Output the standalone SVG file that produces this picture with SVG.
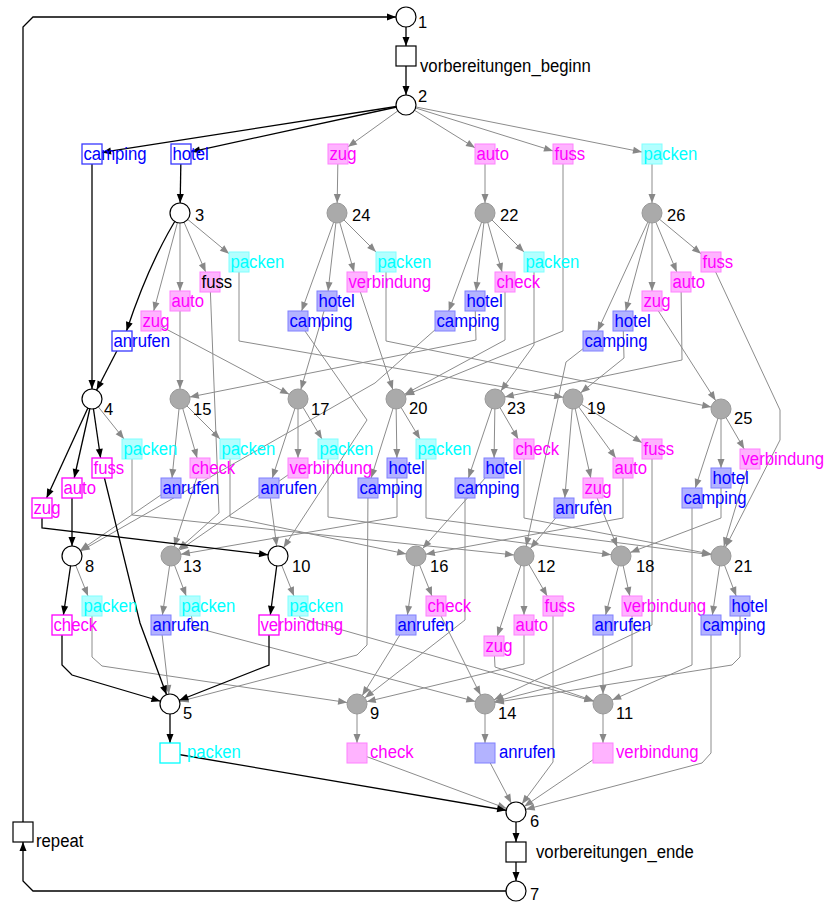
<svg xmlns="http://www.w3.org/2000/svg" width="832" height="905" viewBox="0 0 832 905">
<defs>
<style>
.g,.gt{fill:none;stroke:#8c8c8c;stroke-width:1}
.g{marker-end:url(#ap)}
.gt{marker-end:url(#at)}
.b,.bt{fill:none;stroke:#000;stroke-width:1.3}
.b{marker-end:url(#bp)}
.bt{marker-end:url(#bt)}
.pw{fill:#fff;stroke:#000;stroke-width:1.2}
.pg{fill:#aaa;stroke:#999;stroke-width:1}
.pl{font-family:"Liberation Sans",Arial,sans-serif;font-size:16.5px;fill:#000}
.tl{font-family:"Liberation Sans",Arial,sans-serif;font-size:19px}
.cb{fill:#00f}.cm{fill:#f0f}.cc{fill:#0ff}.ck{fill:#000}
.fb{fill:#b3b3ff;stroke:#8080ff}
.fm{fill:#ffb3ff;stroke:#ff80ff}
.fc{fill:#b3ffff;stroke:#80ffff}
.hb{fill:#fff;stroke:#3838ff;stroke-width:1.3}
.hm{fill:#fff;stroke:#f0f;stroke-width:1.3}
.hc{fill:#fff;stroke:#0ff;stroke-width:1.3}
.hk{fill:#fff;stroke:#000;stroke-width:1.2}
</style>
<marker id="ap" markerUnits="userSpaceOnUse" markerWidth="20" markerHeight="8" refX="19" refY="3.5" orient="auto" overflow="visible"><path d="M0,0 L9,3.5 L0,7 z" fill="#888"/></marker>
<marker id="at" markerUnits="userSpaceOnUse" markerWidth="10" markerHeight="8" refX="9" refY="3.5" orient="auto" overflow="visible"><path d="M0,0 L9,3.5 L0,7 z" fill="#888"/></marker>
<marker id="bp" markerUnits="userSpaceOnUse" markerWidth="20" markerHeight="8" refX="19" refY="3.5" orient="auto" overflow="visible"><path d="M0,0 L9,3.5 L0,7 z" fill="#000"/></marker>
<marker id="bt" markerUnits="userSpaceOnUse" markerWidth="10" markerHeight="8" refX="9" refY="3.5" orient="auto" overflow="visible"><path d="M0,0 L9,3.5 L0,7 z" fill="#000"/></marker>
</defs>
<rect width="832" height="905" fill="#fff"/>
<g id="connectors">
<path class="gt" d="M406,105 L348,146.8"/>
<path class="gt" d="M406,105 L475,147.8"/>
<path class="gt" d="M406,105 L553,150.9"/>
<path class="gt" d="M406,105 L642,152"/>
<path class="gt" d="M180,213 L153.7,311"/>
<path class="gt" d="M180,213 L180,291"/>
<path class="gt" d="M180,213 L205.7,272"/>
<path class="gt" d="M180,213 L229,253.7"/>
<path class="gt" d="M337,213 L301.6,311"/>
<path class="gt" d="M337,213 L328.1,291"/>
<path class="gt" d="M337,213 L354.1,272"/>
<path class="gt" d="M337,213 L376,252"/>
<path class="gt" d="M485,213 L448.7,311"/>
<path class="gt" d="M485,213 L476.1,291"/>
<path class="gt" d="M485,213 L502.1,272"/>
<path class="gt" d="M485,213 L524,252"/>
<path class="gt" d="M652,213 L597.6,331"/>
<path class="gt" d="M652,213 L625.7,311"/>
<path class="gt" d="M652,213 L652,291"/>
<path class="gt" d="M652,213 L676.8,272"/>
<path class="gt" d="M652,213 L701,253.7"/>
<path class="gt" d="M92,399 L124,439"/>
<path class="gt" d="M180,399 L172,478"/>
<path class="gt" d="M180,399 L197.1,458"/>
<path class="gt" d="M180,399 L220,439"/>
<path class="gt" d="M298,399 L272.3,478"/>
<path class="gt" d="M298,399 L298,458"/>
<path class="gt" d="M298,399 L322,439"/>
<path class="gt" d="M396,399 L371.1,478"/>
<path class="gt" d="M396,399 L396.9,458"/>
<path class="gt" d="M396,399 L420,439"/>
<path class="gt" d="M495,399 L468.4,478"/>
<path class="gt" d="M495,399 L494.1,458"/>
<path class="gt" d="M495,399 L518.2,439"/>
<path class="gt" d="M573,399 L564.8,498"/>
<path class="gt" d="M573,399 L590.8,478"/>
<path class="gt" d="M573,399 L615.8,458"/>
<path class="gt" d="M573,399 L642,442.7"/>
<path class="gt" d="M721,409 L695.3,488"/>
<path class="gt" d="M721,409 L721,468"/>
<path class="gt" d="M721,409 L744.2,449"/>
<path class="gt" d="M72,556 L88,596"/>
<path class="gt" d="M171,556 L162.4,615"/>
<path class="gt" d="M171,556 L186.2,596"/>
<path class="gt" d="M278,556 L294,596"/>
<path class="gt" d="M416,556 L407.4,615"/>
<path class="gt" d="M416,556 L432,596"/>
<path class="gt" d="M524,556 L497.3,636"/>
<path class="gt" d="M524,556 L524,615"/>
<path class="gt" d="M524,556 L547.2,596"/>
<path class="gt" d="M621,556 L605.6,615"/>
<path class="gt" d="M621,556 L629.8,596"/>
<path class="gt" d="M721,556 L712.4,615"/>
<path class="gt" d="M721,556 L736.2,596"/>
<path class="gt" d="M357,704 L357,743"/>
<path class="gt" d="M485,704 L485,743"/>
<path class="gt" d="M603,704 L603,743"/>
<path class="g" d="M338,154 L337,213"/>
<path class="g" d="M485,154 L485,213"/>
<path class="g" d="M652,154 L652,213"/>
<path class="g" d="M563,154 L563,331 L396,399"/>
<path class="g" d="M151,321 L298,399"/>
<path class="g" d="M180,301 L180,399"/>
<path class="g" d="M210,282 L219,513 L171,556"/>
<path class="g" d="M239,262 L239,341 L573,399"/>
<path class="g" d="M298,321 L367,420 L278,556"/>
<path class="g" d="M327,301 L298,399"/>
<path class="g" d="M357,282 L396,399"/>
<path class="g" d="M386,262 L386,341 L721,409"/>
<path class="g" d="M445,321 L375,383 L72,556"/>
<path class="g" d="M475,301 L476,340 L180,399"/>
<path class="g" d="M505,282 L505,340 L396,399"/>
<path class="g" d="M534,262 L534,345 L495,399"/>
<path class="g" d="M593,341 L566,362 L524,556"/>
<path class="g" d="M623,321 L624,358 L573,399"/>
<path class="g" d="M652,301 L721,409"/>
<path class="g" d="M681,282 L682,360 L495,399"/>
<path class="g" d="M711,262 L780,410 L780,440 L721,556"/>
<path class="g" d="M132,449 L132,515 L524,556"/>
<path class="g" d="M230,449 L230,517 L416,556"/>
<path class="g" d="M200,468 L171,556"/>
<path class="g" d="M171,488 L72,556"/>
<path class="g" d="M328,449 L328,517 L621,556"/>
<path class="g" d="M298,468 L171,556"/>
<path class="g" d="M269,488 L278,556"/>
<path class="g" d="M426,449 L426,518 L721,556"/>
<path class="g" d="M397,468 L397,517 L171,556"/>
<path class="g" d="M368,488 L367,645 L357,655 L170,704"/>
<path class="g" d="M524,449 L524,518 L721,556"/>
<path class="g" d="M494,468 L416,556"/>
<path class="g" d="M465,488 L465,620 L357,704"/>
<path class="g" d="M652,449 L652,625 L485,704"/>
<path class="g" d="M623,468 L623,518 L416,556"/>
<path class="g" d="M593,488 L621,556"/>
<path class="g" d="M564,508 L524,556"/>
<path class="g" d="M750,459 L721,556"/>
<path class="g" d="M721,478 L721,518 L621,556"/>
<path class="g" d="M692,498 L692,665 L603,704"/>
<path class="g" d="M92,606 L92,657 L102,666 L357,704"/>
<path class="g" d="M190,606 L193,627 L485,704"/>
<path class="g" d="M161,625 L170,704"/>
<path class="g" d="M298,606 L300,618 L603,704"/>
<path class="g" d="M436,606 L485,704"/>
<path class="g" d="M406,625 L357,704"/>
<path class="g" d="M553,606 L553,762 L516,812"/>
<path class="g" d="M524,625 L524,664 L357,704"/>
<path class="g" d="M494,646 L495,667 L603,704"/>
<path class="g" d="M632,606 L632,666 L485,704"/>
<path class="g" d="M603,625 L603,704"/>
<path class="g" d="M740,606 L740,657 L732,665 L485,704"/>
<path class="g" d="M711,625 L711,753 L702,763 L516,812"/>
<path class="g" d="M357,753 L516,812"/>
<path class="g" d="M485,753 L516,812"/>
<path class="g" d="M603,753 L516,812"/>
<path class="bt" d="M406,17 L406,46"/>
<path class="b" d="M406,56 L406,105"/>
<path class="bt" d="M406,105 L102,152.4"/>
<path class="bt" d="M406,105 L191,151.8"/>
<path class="b" d="M92,154 L92,399"/>
<path class="b" d="M181,154 L180,213"/>
<path class="bt" d="M180,213 Q150,260 126.5,331"/>
<path class="b" d="M122,341 L92,399"/>
<path class="bt" d="M92,399 L46.6,498"/>
<path class="bt" d="M92,399 L74.2,478"/>
<path class="bt" d="M92,399 L100.6,458"/>
<path class="b" d="M42,508 L42,528 L278,556"/>
<path class="b" d="M72,488 L72,556"/>
<path class="b" d="M102,468 L140,623 L170,704"/>
<path class="bt" d="M72,556 L63.4,615"/>
<path class="bt" d="M278,556 L270.3,615"/>
<path class="b" d="M62,625 L62,665 L72,675 L170,704"/>
<path class="b" d="M269,625 L269,665 L170,704"/>
<path class="bt" d="M170,704 L170,743"/>
<path class="b" d="M170,753 L516,812"/>
<path class="bt" d="M516,812 L516,842"/>
<path class="b" d="M516,852 L516,891"/>
<path class="bt" d="M516,891 L33,891 L23,881 L23,842"/>
<path class="b" d="M23,832 L23,27 L33,17 L406,17"/>
</g>
<g id="p1"><circle class="pw" cx="406" cy="17" r="10"/><text class="pl" x="418" y="28">1</text></g>
<g id="p2"><circle class="pw" cx="406" cy="105" r="10"/><text class="pl" x="418" y="102">2</text></g>
<g id="p3"><circle class="pw" cx="180" cy="213" r="10"/><text class="pl" x="195" y="221">3</text></g>
<g id="p24"><circle class="pg" cx="337" cy="213" r="10"/><text class="pl" x="352" y="221">24</text></g>
<g id="p22"><circle class="pg" cx="485" cy="213" r="10"/><text class="pl" x="500" y="221">22</text></g>
<g id="p26"><circle class="pg" cx="652" cy="213" r="10"/><text class="pl" x="667" y="221">26</text></g>
<g id="p4"><circle class="pw" cx="92" cy="399" r="10"/><text class="pl" x="104" y="415">4</text></g>
<g id="p15"><circle class="pg" cx="180" cy="399" r="10"/><text class="pl" x="193" y="415">15</text></g>
<g id="p17"><circle class="pg" cx="298" cy="399" r="10"/><text class="pl" x="311" y="415">17</text></g>
<g id="p20"><circle class="pg" cx="396" cy="399" r="10"/><text class="pl" x="409" y="414">20</text></g>
<g id="p23"><circle class="pg" cx="495" cy="399" r="10"/><text class="pl" x="507" y="414">23</text></g>
<g id="p19"><circle class="pg" cx="573" cy="399" r="10"/><text class="pl" x="587" y="414">19</text></g>
<g id="p25"><circle class="pg" cx="721" cy="409" r="10"/><text class="pl" x="734" y="424">25</text></g>
<g id="p8"><circle class="pw" cx="72" cy="556" r="10"/><text class="pl" x="85" y="572">8</text></g>
<g id="p13"><circle class="pg" cx="171" cy="556" r="10"/><text class="pl" x="183" y="572">13</text></g>
<g id="p10"><circle class="pw" cx="278" cy="556" r="10"/><text class="pl" x="292" y="572">10</text></g>
<g id="p16"><circle class="pg" cx="416" cy="556" r="10"/><text class="pl" x="430" y="572">16</text></g>
<g id="p12"><circle class="pg" cx="524" cy="556" r="10"/><text class="pl" x="537" y="572">12</text></g>
<g id="p18"><circle class="pg" cx="621" cy="556" r="10"/><text class="pl" x="636" y="572">18</text></g>
<g id="p21"><circle class="pg" cx="721" cy="556" r="10"/><text class="pl" x="734" y="572">21</text></g>
<g id="p5"><circle class="pw" cx="170" cy="704" r="10"/><text class="pl" x="183" y="719">5</text></g>
<g id="p9"><circle class="pg" cx="357" cy="704" r="10"/><text class="pl" x="370" y="719">9</text></g>
<g id="p14"><circle class="pg" cx="485" cy="704" r="10"/><text class="pl" x="498" y="719">14</text></g>
<g id="p11"><circle class="pg" cx="603" cy="704" r="10"/><text class="pl" x="616" y="719">11</text></g>
<g id="p6"><circle class="pw" cx="516" cy="812" r="10"/><text class="pl" x="530" y="827">6</text></g>
<g id="p7"><circle class="pw" cx="516" cy="891" r="10"/><text class="pl" x="530" y="900">7</text></g>
<g id="t_beginn"><rect class="hk" x="396" y="46" width="20" height="20"/><text class="tl ck" transform="translate(420 72) scale(.88 1)">vorbereitungen_beginn</text></g>
<g id="t_ende"><rect class="hk" x="506" y="842" width="20" height="20"/><text class="tl ck" transform="translate(536 858) scale(.88 1)">vorbereitungen_ende</text></g>
<g id="t_repeat"><rect class="hk" x="13" y="822" width="20" height="20"/><text class="tl ck" transform="translate(36 847) scale(.88 1)">repeat</text></g>
<g id="t2_camping"><rect class="hb" x="82" y="144" width="20" height="20"/><text class="tl cb" transform="translate(83.5 159.5) scale(.88 1)">camping</text></g>
<g id="t2_hotel"><rect class="hb" x="171" y="144" width="20" height="20"/><text class="tl cb" transform="translate(172.5 159.5) scale(.88 1)">hotel</text></g>
<g id="t2_zug"><rect class="fm" x="328" y="144" width="20" height="20"/><text class="tl cm" transform="translate(329.5 159.5) scale(.88 1)">zug</text></g>
<g id="t2_auto"><rect class="fm" x="475" y="144" width="20" height="20"/><text class="tl cm" transform="translate(476.5 159.5) scale(.88 1)">auto</text></g>
<g id="t2_fuss"><rect class="fm" x="553" y="144" width="20" height="20"/><text class="tl cm" transform="translate(554.5 159.5) scale(.88 1)">fuss</text></g>
<g id="t2_packen"><rect class="fc" x="642" y="144" width="20" height="20"/><text class="tl cc" transform="translate(643.5 159.5) scale(.88 1)">packen</text></g>
<g id="t3_packen"><rect class="fc" x="229" y="252" width="20" height="20"/><text class="tl cc" transform="translate(230.5 267.5) scale(.88 1)">packen</text></g>
<g id="t3_fuss"><rect class="fm" x="200" y="272" width="20" height="20"/><text class="tl ck" transform="translate(201.5 287.5) scale(.88 1)">fuss</text></g>
<g id="t3_auto"><rect class="fm" x="170" y="291" width="20" height="20"/><text class="tl cm" transform="translate(171.5 306.5) scale(.88 1)">auto</text></g>
<g id="t3_zug"><rect class="fm" x="141" y="311" width="20" height="20"/><text class="tl cm" transform="translate(142.5 326.5) scale(.88 1)">zug</text></g>
<g id="t3_anrufen"><rect class="hb" x="112" y="331" width="20" height="20"/><text class="tl cb" transform="translate(113.5 346.5) scale(.88 1)">anrufen</text></g>
<g id="t24_packen"><rect class="fc" x="376" y="252" width="20" height="20"/><text class="tl cc" transform="translate(377.5 267.5) scale(.88 1)">packen</text></g>
<g id="t24_verbindung"><rect class="fm" x="347" y="272" width="20" height="20"/><text class="tl cm" transform="translate(348.5 287.5) scale(.88 1)">verbindung</text></g>
<g id="t24_hotel"><rect class="fb" x="317" y="291" width="20" height="20"/><text class="tl cb" transform="translate(318.5 306.5) scale(.88 1)">hotel</text></g>
<g id="t24_camping"><rect class="fb" x="288" y="311" width="20" height="20"/><text class="tl cb" transform="translate(289.5 326.5) scale(.88 1)">camping</text></g>
<g id="t22_packen"><rect class="fc" x="524" y="252" width="20" height="20"/><text class="tl cc" transform="translate(525.5 267.5) scale(.88 1)">packen</text></g>
<g id="t22_check"><rect class="fm" x="495" y="272" width="20" height="20"/><text class="tl cm" transform="translate(496.5 287.5) scale(.88 1)">check</text></g>
<g id="t22_hotel"><rect class="fb" x="465" y="291" width="20" height="20"/><text class="tl cb" transform="translate(466.5 306.5) scale(.88 1)">hotel</text></g>
<g id="t22_camping"><rect class="fb" x="435" y="311" width="20" height="20"/><text class="tl cb" transform="translate(436.5 326.5) scale(.88 1)">camping</text></g>
<g id="t26_fuss"><rect class="fm" x="701" y="252" width="20" height="20"/><text class="tl cm" transform="translate(702.5 267.5) scale(.88 1)">fuss</text></g>
<g id="t26_auto"><rect class="fm" x="671" y="272" width="20" height="20"/><text class="tl cm" transform="translate(672.5 287.5) scale(.88 1)">auto</text></g>
<g id="t26_zug"><rect class="fm" x="642" y="291" width="20" height="20"/><text class="tl cm" transform="translate(643.5 306.5) scale(.88 1)">zug</text></g>
<g id="t26_hotel"><rect class="fb" x="613" y="311" width="20" height="20"/><text class="tl cb" transform="translate(614.5 326.5) scale(.88 1)">hotel</text></g>
<g id="t26_camping"><rect class="fb" x="583" y="331" width="20" height="20"/><text class="tl cb" transform="translate(584.5 346.5) scale(.88 1)">camping</text></g>
<g id="t4_packen"><rect class="fc" x="122" y="439" width="20" height="20"/><text class="tl cc" transform="translate(123.5 454.5) scale(.88 1)">packen</text></g>
<g id="t4_fuss"><rect class="hm" x="92" y="458" width="20" height="20"/><text class="tl cm" transform="translate(93.5 473.5) scale(.88 1)">fuss</text></g>
<g id="t4_auto"><rect class="hm" x="62" y="478" width="20" height="20"/><text class="tl cm" transform="translate(63.5 493.5) scale(.88 1)">auto</text></g>
<g id="t4_zug"><rect class="hm" x="32" y="498" width="20" height="20"/><text class="tl cm" transform="translate(33.5 513.5) scale(.88 1)">zug</text></g>
<g id="t15_packen"><rect class="fc" x="220" y="439" width="20" height="20"/><text class="tl cc" transform="translate(221.5 454.5) scale(.88 1)">packen</text></g>
<g id="t15_check"><rect class="fm" x="190" y="458" width="20" height="20"/><text class="tl cm" transform="translate(191.5 473.5) scale(.88 1)">check</text></g>
<g id="t15_anrufen"><rect class="fb" x="161" y="478" width="20" height="20"/><text class="tl cb" transform="translate(162.5 493.5) scale(.88 1)">anrufen</text></g>
<g id="t17_packen"><rect class="fc" x="318" y="439" width="20" height="20"/><text class="tl cc" transform="translate(319.5 454.5) scale(.88 1)">packen</text></g>
<g id="t17_verbindung"><rect class="fm" x="288" y="458" width="20" height="20"/><text class="tl cm" transform="translate(289.5 473.5) scale(.88 1)">verbindung</text></g>
<g id="t17_anrufen"><rect class="fb" x="259" y="478" width="20" height="20"/><text class="tl cb" transform="translate(260.5 493.5) scale(.88 1)">anrufen</text></g>
<g id="t20_packen"><rect class="fc" x="416" y="439" width="20" height="20"/><text class="tl cc" transform="translate(417.5 454.5) scale(.88 1)">packen</text></g>
<g id="t20_hotel"><rect class="fb" x="387" y="458" width="20" height="20"/><text class="tl cb" transform="translate(388.5 473.5) scale(.88 1)">hotel</text></g>
<g id="t20_camping"><rect class="fb" x="358" y="478" width="20" height="20"/><text class="tl cb" transform="translate(359.5 493.5) scale(.88 1)">camping</text></g>
<g id="t23_check"><rect class="fm" x="514" y="439" width="20" height="20"/><text class="tl cm" transform="translate(515.5 454.5) scale(.88 1)">check</text></g>
<g id="t23_hotel"><rect class="fb" x="484" y="458" width="20" height="20"/><text class="tl cb" transform="translate(485.5 473.5) scale(.88 1)">hotel</text></g>
<g id="t23_camping"><rect class="fb" x="455" y="478" width="20" height="20"/><text class="tl cb" transform="translate(456.5 493.5) scale(.88 1)">camping</text></g>
<g id="t19_fuss"><rect class="fm" x="642" y="439" width="20" height="20"/><text class="tl cm" transform="translate(643.5 454.5) scale(.88 1)">fuss</text></g>
<g id="t19_auto"><rect class="fm" x="613" y="458" width="20" height="20"/><text class="tl cm" transform="translate(614.5 473.5) scale(.88 1)">auto</text></g>
<g id="t19_zug"><rect class="fm" x="583" y="478" width="20" height="20"/><text class="tl cm" transform="translate(584.5 493.5) scale(.88 1)">zug</text></g>
<g id="t19_anrufen"><rect class="fb" x="554" y="498" width="20" height="20"/><text class="tl cb" transform="translate(555.5 513.5) scale(.88 1)">anrufen</text></g>
<g id="t25_verbindung"><rect class="fm" x="740" y="449" width="20" height="20"/><text class="tl cm" transform="translate(741.5 464.5) scale(.88 1)">verbindung</text></g>
<g id="t25_hotel"><rect class="fb" x="711" y="468" width="20" height="20"/><text class="tl cb" transform="translate(712.5 483.5) scale(.88 1)">hotel</text></g>
<g id="t25_camping"><rect class="fb" x="682" y="488" width="20" height="20"/><text class="tl cb" transform="translate(683.5 503.5) scale(.88 1)">camping</text></g>
<g id="t8_packen"><rect class="fc" x="82" y="596" width="20" height="20"/><text class="tl cc" transform="translate(83.5 611.5) scale(.88 1)">packen</text></g>
<g id="t8_check"><rect class="hm" x="52" y="615" width="20" height="20"/><text class="tl cm" transform="translate(53.5 630.5) scale(.88 1)">check</text></g>
<g id="t13_packen"><rect class="fc" x="180" y="596" width="20" height="20"/><text class="tl cc" transform="translate(181.5 611.5) scale(.88 1)">packen</text></g>
<g id="t13_anrufen"><rect class="fb" x="151" y="615" width="20" height="20"/><text class="tl cb" transform="translate(152.5 630.5) scale(.88 1)">anrufen</text></g>
<g id="t10_packen"><rect class="fc" x="288" y="596" width="20" height="20"/><text class="tl cc" transform="translate(289.5 611.5) scale(.88 1)">packen</text></g>
<g id="t10_verbindung"><rect class="hm" x="259" y="615" width="20" height="20"/><text class="tl cm" transform="translate(260.5 630.5) scale(.88 1)">verbindung</text></g>
<g id="t16_check"><rect class="fm" x="426" y="596" width="20" height="20"/><text class="tl cm" transform="translate(427.5 611.5) scale(.88 1)">check</text></g>
<g id="t16_anrufen"><rect class="fb" x="396" y="615" width="20" height="20"/><text class="tl cb" transform="translate(397.5 630.5) scale(.88 1)">anrufen</text></g>
<g id="t12_fuss"><rect class="fm" x="543" y="596" width="20" height="20"/><text class="tl cm" transform="translate(544.5 611.5) scale(.88 1)">fuss</text></g>
<g id="t12_auto"><rect class="fm" x="514" y="615" width="20" height="20"/><text class="tl cm" transform="translate(515.5 630.5) scale(.88 1)">auto</text></g>
<g id="t12_zug"><rect class="fm" x="484" y="636" width="20" height="20"/><text class="tl cm" transform="translate(485.5 651.5) scale(.88 1)">zug</text></g>
<g id="t18_verbindung"><rect class="fm" x="622" y="596" width="20" height="20"/><text class="tl cm" transform="translate(623.5 611.5) scale(.88 1)">verbindung</text></g>
<g id="t18_anrufen"><rect class="fb" x="593" y="615" width="20" height="20"/><text class="tl cb" transform="translate(594.5 630.5) scale(.88 1)">anrufen</text></g>
<g id="t21_hotel"><rect class="fb" x="730" y="596" width="20" height="20"/><text class="tl cb" transform="translate(731.5 611.5) scale(.88 1)">hotel</text></g>
<g id="t21_camping"><rect class="fb" x="701" y="615" width="20" height="20"/><text class="tl cb" transform="translate(702.5 630.5) scale(.88 1)">camping</text></g>
<g id="t5_packen"><rect class="hc" x="160" y="743" width="20" height="20"/><text class="tl cc" transform="translate(187 757.5) scale(.88 1)">packen</text></g>
<g id="t9_check"><rect class="fm" x="347" y="743" width="20" height="20"/><text class="tl cm" transform="translate(370 757.5) scale(.88 1)">check</text></g>
<g id="t14_anrufen"><rect class="fb" x="475" y="743" width="20" height="20"/><text class="tl cb" transform="translate(499 757.5) scale(.88 1)">anrufen</text></g>
<g id="t11_verbindung"><rect class="fm" x="593" y="743" width="20" height="20"/><text class="tl cm" transform="translate(616 757.5) scale(.88 1)">verbindung</text></g>
</svg>
